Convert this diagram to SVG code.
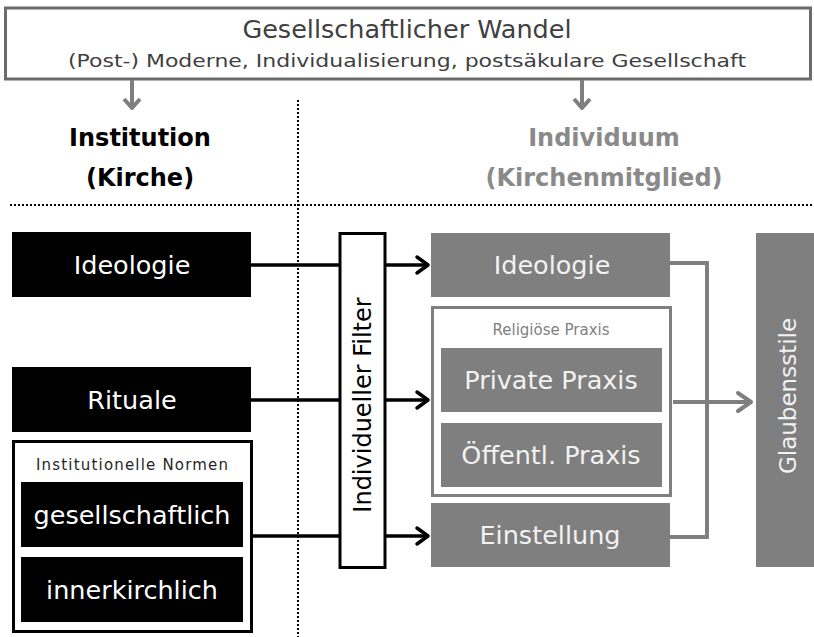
<svg xmlns="http://www.w3.org/2000/svg" width="814" height="637" viewBox="0 0 814 637">
<defs>
<style>
text{font-family:"DejaVu Sans","Liberation Sans",sans-serif;text-anchor:middle}
.blk{fill:#000}
.gry{fill:#7f7f7f}
.wt{fill:#ffffff;font-size:25.5px}
.wtg{fill:#f2f2f2;font-size:25.5px}
.dot{stroke:#000;stroke-width:2;stroke-dasharray:2 2;fill:none}
.bl{stroke:#000;stroke-width:3.5;fill:none}
.gl{stroke:#7f7f7f;stroke-width:4;fill:none}
</style>
</defs>

<g id="top">
<rect x="5.5" y="8" width="805" height="71" fill="#fff" stroke="#6b6b6b" stroke-width="3"/>
<text x="407" y="38" font-size="25.5" fill="#404040">Gesellschaftlicher Wandel</text>
<text x="407" y="67" font-size="17" fill="#404040" textLength="678" lengthAdjust="spacingAndGlyphs">(Post-) Moderne, Individualisierung, postsäkulare Gesellschaft</text>
</g>

<g id="dividers">
<line x1="298" y1="100" x2="298" y2="637" class="dot"/>
<line x1="10" y1="205" x2="814" y2="205" class="dot"/>
</g>

<g id="head-institution">
<text x="140" y="146" font-size="24" font-weight="bold" fill="#000">Institution</text>
<text x="140" y="186" font-size="24" font-weight="bold" fill="#000">(Kirche)</text>
</g>
<g id="head-individuum">
<text x="604" y="146" font-size="24" font-weight="bold" fill="#8a8a8a">Individuum</text>
<text x="604" y="186" font-size="24" font-weight="bold" fill="#8a8a8a">(Kirchenmitglied)</text>
</g>

<g id="connectors">
<path d="M132,80 V108" class="gl"/>
<path d="M124,99 L132,108 L140,99" class="gl" stroke-linejoin="round"/>
<path d="M582,80 V108" class="gl"/>
<path d="M574,99 L582,108 L590,99" class="gl" stroke-linejoin="round"/>
<path d="M251,265 H339" class="bl"/>
<path d="M251,400 H339" class="bl"/>
<path d="M252,536 H339" class="bl"/>
<path d="M386,265 H428" class="bl"/>
<path d="M417,257 L428,265 L417,273" class="bl" stroke-linejoin="round" stroke-linecap="round"/>
<path d="M386,400 H428" class="bl"/>
<path d="M417,392 L428,400 L417,408" class="bl" stroke-linejoin="round" stroke-linecap="round"/>
<path d="M386,536 H428" class="bl"/>
<path d="M417,528 L428,536 L417,544" class="bl" stroke-linejoin="round" stroke-linecap="round"/>
<path d="M670,263 H707 V537 H670" class="gl"/>
<path d="M673,402 H751" class="gl"/>
<path d="M738,393 L751,402 L738,411" class="gl" stroke-linejoin="round" stroke-linecap="round"/>
</g>

<g id="inst-ideologie">
<rect x="12" y="232" width="239" height="65" class="blk"/>
<text x="132" y="274" class="wt">Ideologie</text>
</g>
<g id="inst-rituale">
<rect x="12" y="367" width="239" height="65" class="blk"/>
<text x="132" y="409" class="wt">Rituale</text>
</g>
<g id="inst-normen">
<rect x="13.5" y="441.5" width="238" height="190" fill="#fff" stroke="#000" stroke-width="3"/>
<text x="132" y="470" font-size="15" fill="#262626" textLength="192" lengthAdjust="spacing">Institutionelle Normen</text>
</g>
<g id="norm-gesellschaftlich">
<rect x="21" y="482" width="222" height="65" class="blk"/>
<text x="132" y="524" class="wt">gesellschaftlich</text>
</g>
<g id="norm-innerkirchlich">
<rect x="21" y="557" width="222" height="65" class="blk"/>
<text x="132" y="599" class="wt">innerkirchlich</text>
</g>

<g id="filter">
<rect x="340" y="233.5" width="45" height="334" fill="#fff" stroke="#000" stroke-width="3"/>
<text transform="translate(371,405) rotate(-90)" font-size="24" fill="#000">Individueller Filter</text>
</g>

<g id="ind-ideologie">
<rect x="431" y="233" width="239" height="64" class="gry"/>
<text x="552" y="274" class="wtg">Ideologie</text>
</g>
<g id="religioese-praxis">
<rect x="432.5" y="307.5" width="238" height="188" fill="#fff" stroke="#7f7f7f" stroke-width="3"/>
<text x="551" y="335" font-size="15" fill="#7f7f7f">Religiöse Praxis</text>
</g>
<g id="private-praxis">
<rect x="441" y="348" width="221" height="64" class="gry"/>
<text x="551" y="389" class="wtg">Private Praxis</text>
</g>
<g id="oeffentl-praxis">
<rect x="441" y="423" width="221" height="64" class="gry"/>
<text x="551" y="464" class="wtg">Öffentl. Praxis</text>
</g>
<g id="einstellung">
<rect x="431" y="503" width="239" height="64" class="gry"/>
<text x="550" y="544" class="wtg">Einstellung</text>
</g>
<g id="glaubensstile">
<rect x="756" y="233" width="58" height="334" class="gry"/>
<text transform="translate(796,396) rotate(-90)" font-size="23" fill="#f2f2f2">Glaubensstile</text>
</g>
</svg>
